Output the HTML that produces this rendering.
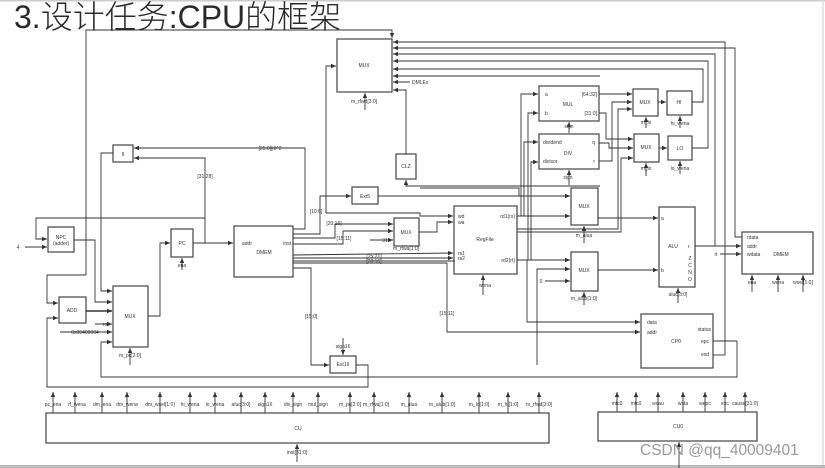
<!DOCTYPE html>
<html><head><meta charset="utf-8"><style>
html,body{margin:0;padding:0;background:#fff;}
svg{display:block;}
text{font-family:"Liberation Sans","Noto Sans CJK SC",sans-serif;fill:#333;}
.s{font-size:5px;}
</style></head><body>
<svg width="825" height="468" viewBox="0 0 825 468" xmlns="http://www.w3.org/2000/svg">
<defs><marker id="a" markerWidth="6" markerHeight="6" refX="5" refY="3" orient="auto" markerUnits="userSpaceOnUse"><path d="M0,0.8 L5,3 L0,5.2 z" fill="#333"/></marker></defs>
<rect x="0" y="0" width="825" height="1.5" fill="#ccc"/>
<rect x="0" y="465" width="825" height="3" fill="#bbb"/>
<line x1="823" y1="0" x2="823" y2="465" stroke="#ddd" stroke-width="1.5"/>
<text x="14" y="28" style="font-size:32px;font-family:'Liberation Sans','Noto Sans CJK SC',sans-serif;fill:#2a2a2a;font-weight:300">3.设计任务:CPU的框架</text>

<g fill="none" stroke="#444" stroke-width="1.2">
<rect x="337" y="39" width="55" height="53"/>
<rect x="113" y="145" width="20" height="17"/>
<rect x="48" y="227" width="26" height="25"/>
<rect x="59" y="297" width="27" height="26"/>
<rect x="113" y="286" width="35" height="61"/>
<rect x="171" y="229" width="22" height="28"/>
<rect x="234" y="226" width="59" height="51"/>
<rect x="352" y="187" width="26" height="17"/>
<rect x="396" y="154" width="20" height="25"/>
<rect x="394" y="218" width="25" height="28"/>
<rect x="330" y="356" width="26" height="17"/>
<rect x="454" y="206" width="63" height="68"/>
<rect x="539" y="86" width="60" height="35"/>
<rect x="539" y="134" width="60" height="35"/>
<rect x="571" y="188" width="27" height="37"/>
<rect x="571" y="252" width="27" height="39"/>
<rect x="633" y="89" width="25" height="27"/>
<rect x="667" y="91" width="25" height="24"/>
<rect x="634" y="134" width="25" height="28"/>
<rect x="668" y="136" width="24" height="24"/>
<rect x="659" y="207" width="36" height="80"/>
<rect x="742" y="232" width="71" height="42"/>
<rect x="641" y="314" width="72" height="54"/>
<rect x="46" y="413" width="503" height="30"/>
<rect x="598" y="412" width="159" height="29"/>
</g>

<g fill="none" stroke="#333" stroke-width="0.9">
<polyline points="86,275 86,30 392,30 392,38" marker-end="url(#a)"/>
<polyline points="86,275 47,275 47,303 58,303" marker-end="url(#a)"/>
<polyline points="74,240 86,240"/>
<polyline points="74,240 95,240 95,302 112,302" marker-end="url(#a)"/>
<polyline points="113,153 101,153 101,291 112,291" marker-end="url(#a)"/>
<polyline points="86,311 112,311" marker-end="url(#a)" stroke-width="1.5"/>
<polyline points="95,324 112,324" marker-end="url(#a)"/>
<polyline points="60,332 112,332" marker-end="url(#a)"/>
<polyline points="737,341 713,341"/>
<polyline points="737,341 737,377 101,377 101,342 112,342" marker-end="url(#a)"/>
<polyline points="356,365 368,365 368,387 47,387 47,318 58,318" marker-end="url(#a)"/>
<polyline points="148,316 160,316 160,243 170,243" marker-end="url(#a)"/>
<polyline points="182,270 182,258" marker-end="url(#a)"/>
<polyline points="130,365 130,348" marker-end="url(#a)"/>
<polyline points="193,243 233,243" marker-end="url(#a)"/>
<polyline points="205,243 205,158 134,158" marker-end="url(#a)"/>
<polyline points="205,218 36,218 36,239 47,239" marker-end="url(#a)"/>
<polyline points="25,247 47,247" marker-end="url(#a)"/>
<polyline points="293,229 305,229 305,148 134,148" marker-end="url(#a)"/>
<polyline points="293,234 320,234 320,196 351,196" marker-end="url(#a)"/>
<polyline points="293,238 335,238 335,224 393,224" marker-end="url(#a)"/>
<polyline points="293,244 343,244 343,231 393,231" marker-end="url(#a)"/>
<polyline points="370,240 393,240" marker-end="url(#a)"/>
<polyline points="293,255 453,253" marker-end="url(#a)"/>
<polyline points="293,258 453,258" marker-end="url(#a)"/>
<polyline points="293,261 455,261"/>
<polyline points="293,263 447,263 447,332 640,332" marker-end="url(#a)"/>
<polyline points="293,268 311,268 311,365 329,365" marker-end="url(#a)"/>
<polyline points="343,338 343,355" marker-end="url(#a)"/>
<polyline points="326,213 326,66 336,66" marker-end="url(#a)"/>
<polyline points="326,213 420,213 420,216 453,216" marker-end="url(#a)"/>
<polyline points="419,232 437,232 437,222 453,222" marker-end="url(#a)"/>
<polyline points="406,154 406,90 393,90" marker-end="url(#a)"/>
<polyline points="600,186 406,186 406,180" marker-end="url(#a)"/>
<polyline points="378,196 570,196" marker-end="url(#a)"/>
<polyline points="420,188 519,188 519,196"/>
<polyline points="410,82 393,82" marker-end="url(#a)"/>
<polyline points="365,110 365,93" marker-end="url(#a)"/>
<polyline points="725,355 713,355"/>
<polyline points="725,355 725,42 393,42" marker-end="url(#a)"/>
<polyline points="742,237 735,237 735,48 393,48" marker-end="url(#a)"/>
<polyline points="715,246 715,54 393,54" marker-end="url(#a)"/>
<polyline points="692,148 708,148 708,61 393,61" marker-end="url(#a)"/>
<polyline points="692,102 703,102 703,69 393,69" marker-end="url(#a)"/>
<polyline points="600,76 393,76" marker-end="url(#a)"/>
<polyline points="517,216 570,216" marker-end="url(#a)"/>
<polyline points="521,216 521,94 538,94" marker-end="url(#a)"/>
<polyline points="524,216 524,142 538,142" marker-end="url(#a)"/>
<polyline points="517,260 570,260" marker-end="url(#a)"/>
<polyline points="528,260 528,113 538,113" marker-end="url(#a)"/>
<polyline points="531,260 531,162 538,162" marker-end="url(#a)"/>
<polyline points="517,229 618,229 618,109 632,109" marker-end="url(#a)"/>
<polyline points="517,232 621,232 621,158 633,158" marker-end="url(#a)"/>
<polyline points="527,260 527,322 640,322" marker-end="url(#a)"/>
<polyline points="483,295 483,275" marker-end="url(#a)"/>
<polyline points="537,365 537,269 570,269" marker-end="url(#a)"/>
<polyline points="545,281 570,281" marker-end="url(#a)"/>
<polyline points="584,305 584,292" marker-end="url(#a)"/>
<polyline points="584,243 584,226" marker-end="url(#a)"/>
<polyline points="599,94 632,94" marker-end="url(#a)"/>
<polyline points="599,113 606,113 606,139 633,139" marker-end="url(#a)"/>
<polyline points="599,143 609,143 609,148 633,148" marker-end="url(#a)"/>
<polyline points="599,161 612,161 612,102 632,102" marker-end="url(#a)"/>
<polyline points="569,133 569,122" marker-end="url(#a)"/>
<polyline points="569,185 569,170" marker-end="url(#a)"/>
<polyline points="658,102 666,102" marker-end="url(#a)"/>
<polyline points="659,148 667,148" marker-end="url(#a)"/>
<polyline points="646,128 646,117" marker-end="url(#a)"/>
<polyline points="646,176 646,163" marker-end="url(#a)"/>
<polyline points="680,128 680,116" marker-end="url(#a)"/>
<polyline points="680,174 680,161" marker-end="url(#a)"/>
<polyline points="598,218 658,218" marker-end="url(#a)"/>
<polyline points="598,270 658,270" marker-end="url(#a)"/>
<polyline points="695,246 741,246" marker-end="url(#a)"/>
<polyline points="720,254 741,254" marker-end="url(#a)"/>
<polyline points="678,303 678,288" marker-end="url(#a)"/>
<polyline points="752,292 752,275" marker-end="url(#a)"/>
<polyline points="778,292 778,275" marker-end="url(#a)"/>
<polyline points="803,292 803,275" marker-end="url(#a)"/>
<g>
<polyline points="53,413 53,392" marker-end="url(#a)"/><polyline points="75,413 75,392" marker-end="url(#a)"/>
<polyline points="102,413 102,392" marker-end="url(#a)"/><polyline points="127,413 127,392" marker-end="url(#a)"/>
<polyline points="160,413 160,392" marker-end="url(#a)"/><polyline points="190,413 190,392" marker-end="url(#a)"/>
<polyline points="215,413 215,392" marker-end="url(#a)"/><polyline points="241,413 241,392" marker-end="url(#a)"/>
<polyline points="265,413 265,392" marker-end="url(#a)"/><polyline points="293,413 293,392" marker-end="url(#a)"/>
<polyline points="318,413 318,392" marker-end="url(#a)"/><polyline points="350,413 350,392" marker-end="url(#a)"/>
<polyline points="374,413 374,392" marker-end="url(#a)"/><polyline points="409,413 409,392" marker-end="url(#a)"/>
<polyline points="442,413 442,392" marker-end="url(#a)"/><polyline points="479,413 479,392" marker-end="url(#a)"/>
<polyline points="508,413 508,392" marker-end="url(#a)"/><polyline points="539,413 539,392" marker-end="url(#a)"/>
<polyline points="617,412 617,392" marker-end="url(#a)"/><polyline points="636,412 636,392" marker-end="url(#a)"/>
<polyline points="658,412 658,392" marker-end="url(#a)"/><polyline points="683,412 683,392" marker-end="url(#a)"/>
<polyline points="705,412 705,392" marker-end="url(#a)"/><polyline points="725,412 725,392" marker-end="url(#a)"/>
<polyline points="745,412 745,392" marker-end="url(#a)"/>
<polyline points="297,462 297,444" marker-end="url(#a)"/>
<polyline points="679,468 679,442" marker-end="url(#a)"/>
</g>
</g>

<g class="s" text-anchor="middle">
<text x="364" y="67">MUX</text><text x="364" y="103">m_rfwd[3:0]</text>
<text x="412" y="84" text-anchor="start">DMLEx</text>
<text x="123" y="156">II</text>
<text x="61" y="239">NPC</text><text x="61" y="245">(adder)</text>
<text x="18" y="249">4</text>
<text x="72" y="312">ADD</text>
<text x="130" y="318">MUX</text><text x="130" y="357">m_pc[2:0]</text>
<text x="105" y="326">rs</text>
<text x="85" y="334">0x00400004</text>
<text x="182" y="245">PC</text><text x="182" y="267">ena</text>
<text x="242" y="245" text-anchor="start">addr</text><text x="291" y="245" text-anchor="end">inst</text>
<text x="264" y="254">DMEM</text>
<text x="270" y="150">[25:0]||0^2</text>
<text x="205" y="178">[31:28]</text>
<text x="316" y="213">[10:6]</text>
<text x="334" y="225">[20:16]</text>
<text x="344" y="240">[15:11]</text>
<text x="385" y="242">31</text>
<text x="374" y="258">[25:21]</text><text x="374" y="263">[20:16]</text>
<text x="311" y="318">[15:0]</text>
<text x="447" y="315">[15:11]</text>
<text x="365" y="198">Ext5</text>
<text x="406" y="168">CLZ</text>
<text x="406" y="234">MUX</text><text x="406" y="250">m_rfwa[1:0]</text>
<text x="343" y="348">sign16</text>
<text x="343" y="366">Ext16</text>
<text x="458" y="218" text-anchor="start">wd</text><text x="458" y="224" text-anchor="start">wa</text>
<text x="458" y="255" text-anchor="start">rs1</text><text x="458" y="260" text-anchor="start">rs2</text>
<text x="515" y="218" text-anchor="end">rd1(rs)</text><text x="515" y="262" text-anchor="end">rd2(rt)</text>
<text x="485" y="241">RegFile</text><text x="485" y="287">wena</text>
<text x="545" y="96" text-anchor="start">a</text><text x="545" y="115" text-anchor="start">b</text>
<text x="597" y="96" text-anchor="end">[64:32]</text><text x="597" y="115" text-anchor="end">[31:0]</text>
<text x="568" y="106">MUL</text><text x="569" y="128">sign</text>
<text x="543" y="144" text-anchor="start">dividend</text><text x="543" y="163" text-anchor="start">divisor</text>
<text x="595" y="144" text-anchor="end">q</text><text x="595" y="163" text-anchor="end">r</text>
<text x="568" y="155">DIV</text><text x="568" y="179">sign</text>
<text x="584" y="208">MUX</text><text x="584" y="237">m_alua</text>
<text x="584" y="272">MUX</text><text x="584" y="300">m_alub[1:0]</text>
<text x="541" y="283">0</text>
<text x="645" y="104">MUX</text><text x="646" y="124">m_hi</text>
<text x="679" y="104">HI</text><text x="680" y="125">hi_wena</text>
<text x="646" y="149">MUX</text><text x="646" y="170">m_lo</text>
<text x="680" y="150">LO</text><text x="680" y="170">lo_wena</text>
<text x="661" y="220" text-anchor="start">a</text><text x="661" y="272" text-anchor="start">b</text>
<text x="673" y="248">ALU</text><text x="689" y="248">r</text>
<text x="690" y="260">Z</text><text x="690" y="267">C</text><text x="690" y="274">N</text><text x="690" y="281">O</text>
<text x="678" y="296">aluc[3:0]</text>
<text x="747" y="239" text-anchor="start">rdata</text><text x="747" y="248" text-anchor="start">addr</text><text x="747" y="256" text-anchor="start">wdata</text>
<text x="781" y="256">DMEM</text><text x="716" y="256">rt</text>
<text x="752" y="284">ena</text><text x="778" y="284">wena</text><text x="803" y="284">wsel[1:0]</text>
<text x="647" y="324" text-anchor="start">data</text><text x="647" y="334" text-anchor="start">addr</text>
<text x="711" y="331" text-anchor="end">status</text><text x="709" y="343" text-anchor="end">epc</text><text x="709" y="356" text-anchor="end">exd</text>
<text x="676" y="343">CP0</text>
<text x="298" y="430">CU</text><text x="678" y="428">CU0</text>
<text x="297" y="454">inst[31:0]</text>
<text x="53" y="406">pc_ena</text><text x="77" y="406">rf_wena</text><text x="102" y="406">dm_ena</text><text x="127" y="406">dm_wena</text>
<text x="160" y="406">dm_wsel[1:0]</text><text x="190" y="406">hi_wena</text><text x="215" y="406">lo_wena</text><text x="241" y="406">aluc[3:0]</text>
<text x="265" y="406">sign16</text><text x="293" y="406">div_sign</text><text x="318" y="406">mul_sign</text><text x="350" y="406">m_pc[2:0]</text>
<text x="376" y="406">m_rfwa[1:0]</text><text x="409" y="406">m_alua</text><text x="442" y="406">m_alub[1:0]</text>
<text x="479" y="406">m_lo[1:0]</text><text x="508" y="406">m_hi[1:0]</text><text x="539" y="406">m_rfwd[3:0]</text>
<text x="617" y="405">mfc0</text><text x="636" y="405">mtc0</text><text x="658" y="405">wcau</text><text x="683" y="405">wsta</text>
<text x="705" y="405">wepc</text><text x="725" y="405">exc</text><text x="745" y="405">cause[31:0]</text>
</g>
<text x="640" y="455" style="font-size:15.5px;fill:#999;">CSDN @qq_40009401</text>
</svg>
</body></html>
